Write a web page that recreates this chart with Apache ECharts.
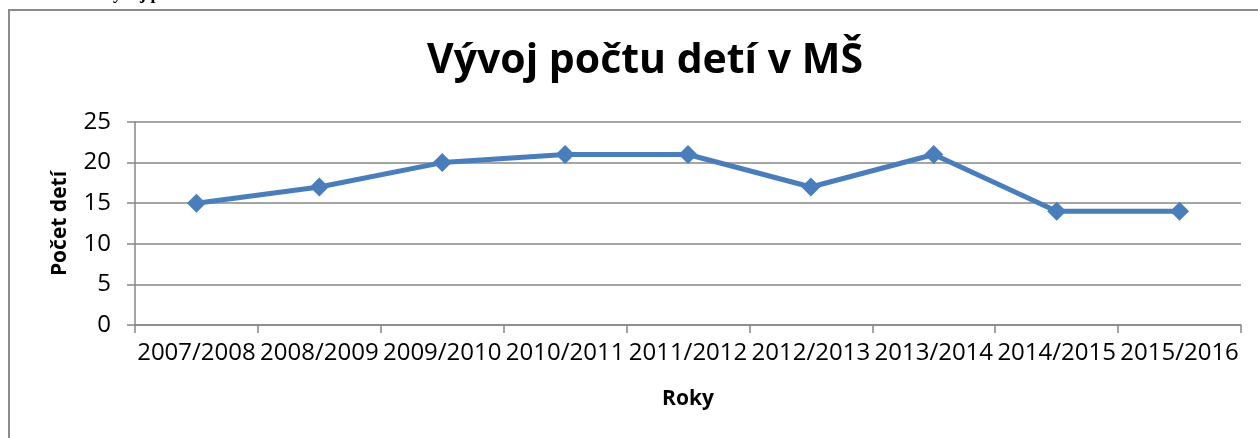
<!DOCTYPE html>
<html>
<head>
    <meta charset="utf-8" />
    <script src="https://cdn.jsdelivr.net/npm/echarts@6/dist/echarts.min.js"></script>
    <style>
        html, body { margin: 0; padding: 0; background: #fff; }
        #main { width: 1258px; height: 438px; }
    </style>
</head>
<body>
    <div id="main"></div>
    <script>
        // data
        var roky = ['2007/2008', '2008/2009', '2009/2010', '2010/2011', '2011/2012',
                    '2012/2013', '2013/2014', '2014/2015', '2015/2016'];
        var pocetDeti = [15, 17, 20, 21, 21, 17, 21, 14, 14];

        var grayLine = '#878787';
        var font = '"Open Sans", "Liberation Sans", sans-serif';

        var chart = echarts.init(document.getElementById('main'));
        chart.setOption({
            animation: false,
            title: {
                text: 'Vývoj počtu detí v MŠ',
                left: 640,
                textAlign: 'center',
                top: 36,
                textStyle: { fontFamily: font, fontSize: 41, fontWeight: 'bold', color: '#000' }
            },
            graphic: [
                {
                    // frame of the chart
                    type: 'rect',
                    shape: { x: 9, y: 10, width: 1300, height: 500 },
                    style: { fill: 'none', stroke: '#8c8c8c', lineWidth: 2 }
                },
                {
                    // caption cut off at the top
                    type: 'text',
                    x: 45, y: 3,
                    style: {
                        text: 'Graf 1 Vývoj počtu detí v MŠ',
                        font: 'bold 18px "Liberation Serif", serif',
                        fill: '#000',
                        verticalAlign: 'bottom'
                    }
                }
            ],
            grid: { left: 135, right: 17, top: 122, bottom: 113 },
            xAxis: {
                type: 'category',
                data: roky,
                boundaryGap: true,
                name: 'Roky',
                nameLocation: 'middle',
                nameGap: 64,
                nameTextStyle: { fontFamily: font, fontSize: 21, fontWeight: 'bold', color: '#000' },
                axisLine: { lineStyle: { color: grayLine, width: 1.5 } },
                axisTick: { show: true, length: 8, alignWithLabel: false, lineStyle: { color: grayLine, width: 1.5 } },
                axisLabel: { fontFamily: font, fontSize: 24, color: '#000', margin: 16, interval: 0 },
                splitLine: { show: false }
            },
            yAxis: {
                type: 'value',
                min: 0, max: 25, interval: 5,
                name: 'Počet detí',
                nameLocation: 'middle',
                nameGap: 64,
                nameRotate: 90,
                nameTextStyle: { fontFamily: font, fontSize: 21, fontWeight: 'bold', color: '#000' },
                axisLine: { show: true, lineStyle: { color: grayLine, width: 1.5 } },
                axisTick: { show: true, length: 8, lineStyle: { color: grayLine, width: 1.5 } },
                axisLabel: { fontFamily: font, fontSize: 24, color: '#000', margin: 24 },
                splitLine: { show: true, lineStyle: { color: grayLine, width: 1.5 } }
            },
            series: [{
                type: 'line',
                data: pocetDeti,
                symbol: 'diamond',
                symbolSize: 19,
                lineStyle: { color: '#4a7ebb', width: 5 },
                itemStyle: { color: '#4a7ebb' }
            }]
        });
    </script>
</body>
</html>
